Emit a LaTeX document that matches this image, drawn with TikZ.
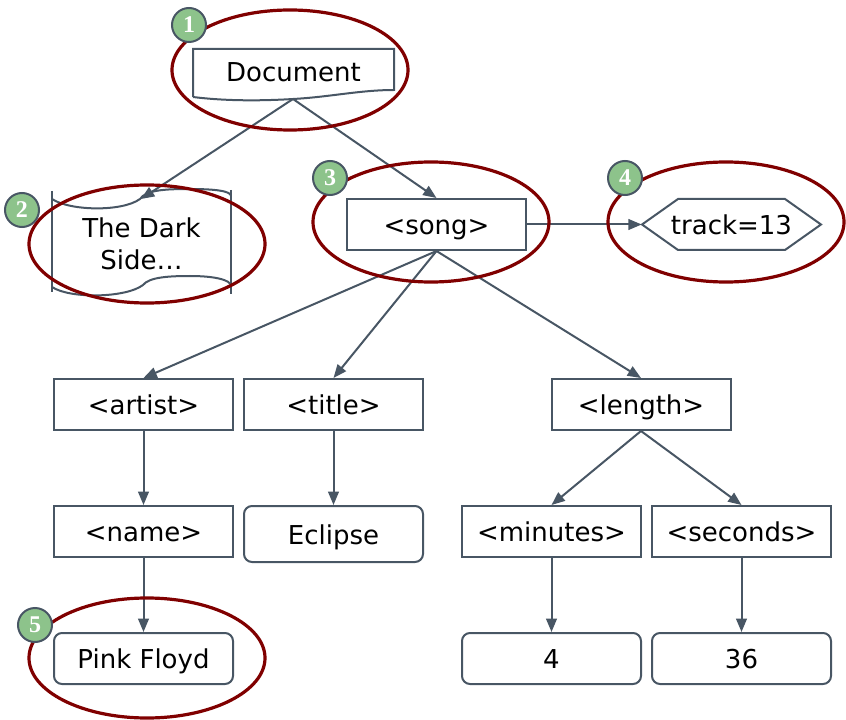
\documentclass[tikz,border=0pt]{standalone}
\usepackage{fontspec}
\setmainfont{DejaVu Sans}
\newfontfamily\badgefont{Liberation Serif}
\usetikzlibrary{arrows.meta}
\definecolor{edgec}{RGB}{72,86,100}
\definecolor{ringc}{RGB}{128,0,0}
\definecolor{badgec}{RGB}{141,195,139}
\tikzset{
  x=0.75pt, y=-0.75pt,
  every node/.style={font=\fontsize{19.5}{24}\selectfont, text=black},
  tx/.style={text height=15pt, text depth=0pt},
  box/.style={tx, draw=edgec, line width=1.5pt, minimum width=134.25pt, minimum height=38.25pt, inner sep=0pt},
  rbox/.style={box, rounded corners=6pt},
  plain/.style={minimum width=134.25pt, minimum height=38.25pt, inner sep=0pt},
  conn/.style={draw=edgec, line width=1.5pt, -{Triangle[length=10pt,width=8pt]}},
  outline/.style={draw=edgec, line width=1.5pt},
  ring/.style={draw=ringc, line width=2.4pt},
  badge/.style={circle, draw=edgec, line width=1.5pt, fill=badgec, minimum size=25.5pt, inner sep=0pt, text=white, font=\badgefont\bfseries\fontsize{18}{18}\selectfont}
}
\begin{document}
\begin{tikzpicture}
\useasboundingbox (0,0) rectangle (846,720);

% Document
\node[plain, tx] (doc) at (293.5,71.5) {Document};
\draw[outline] (193,97) -- (193,49) -- (394,49) -- (394,90)
  .. controls (360,90) and (330,97) .. (293,99)
  .. controls (260,101) and (225,101) .. (193,97);
\coordinate (docb) at (293,99);

% The Dark Side
\node[plain, align=center] (dark) at (141.5,244) {The Dark\\Side…};
\draw[outline] (52,191) -- (52,292);
\draw[outline] (231,190) -- (231,294);
\draw[outline] (52,199) .. controls (70,211) and (122,212) .. (140,199)
  .. controls (146,190) and (165,189) .. (190,189)
  .. controls (215,189) and (231,191) .. (231,196);
\draw[outline] (52,287) .. controls (70,299) and (126,298) .. (143,285)
  .. controls (149,277) and (170,276) .. (190,276)
  .. controls (215,276) and (231,280) .. (231,286);
\coordinate (darktop) at (141,199);

% song
\node[box] (song) at (436.5,224.5) {<song>};

% track hexagon
\node[plain, tx] (track) at (731.5,224.5) {track=13};
\draw[outline] (642,224.5) -- (678,199) -- (785,199) -- (821,224.5) -- (785,250) -- (678,250) -- cycle;

% level 3
\node[box] (artist) at (143.5,404.5) {<artist>};
\node[box] (title) at (333.5,404.5) {<title>};
\node[box] (length) at (641,404.5) {<length>};

% level 4
\node[box] (name) at (143.5,531.5) {<name>};
\node[rbox, minimum height=42pt] (eclipse) at (333.5,534) {Eclipse};
\node[box] (minutes) at (551.5,531.5) {<minutes>};
\node[box] (seconds) at (741.5,531.5) {<seconds>};

% level 5
\node[rbox] (pink) at (143.5,658.5) {Pink Floyd};
\node[rbox] (four) at (551.5,658.5) {4};
\node[rbox] (thirtysix) at (741.5,658.5) {36};

% connectors
\draw[conn] (docb) -- (darktop);
\draw[conn] (docb) -- (song.north);
\draw[conn] (song.east) -- (track.west);
\draw[conn] (song.south) -- (artist.north);
\draw[conn] (song.south) -- (title.north);
\draw[conn] (song.south) -- (length.north);
\draw[conn] (artist) -- (name);
\draw[conn] (title) -- (eclipse);
\draw[conn] (length.south) -- (minutes.north);
\draw[conn] (length.south) -- (seconds.north);
\draw[conn] (name) -- (pink);
\draw[conn] (minutes) -- (four);
\draw[conn] (seconds) -- (thirtysix);

% highlight rings
\draw[ring] (290,70) ellipse [x radius=118, y radius=60];
\draw[ring] (147,244) ellipse [x radius=118, y radius=59];
\draw[ring] (431,222) ellipse [x radius=118, y radius=60];
\draw[ring] (726,222) ellipse [x radius=118, y radius=60];
\draw[ring] (147,658) ellipse [x radius=118, y radius=60];

% badges
\node[badge] (b1) at (189,25) {1};
\node[badge] (b2) at (22,210) {2};
\node[badge] (b3) at (330,178) {3};
\node[badge] (b4) at (625,178) {4};
\node[badge] (b5) at (35,625) {5};
\end{tikzpicture}
\end{document}
